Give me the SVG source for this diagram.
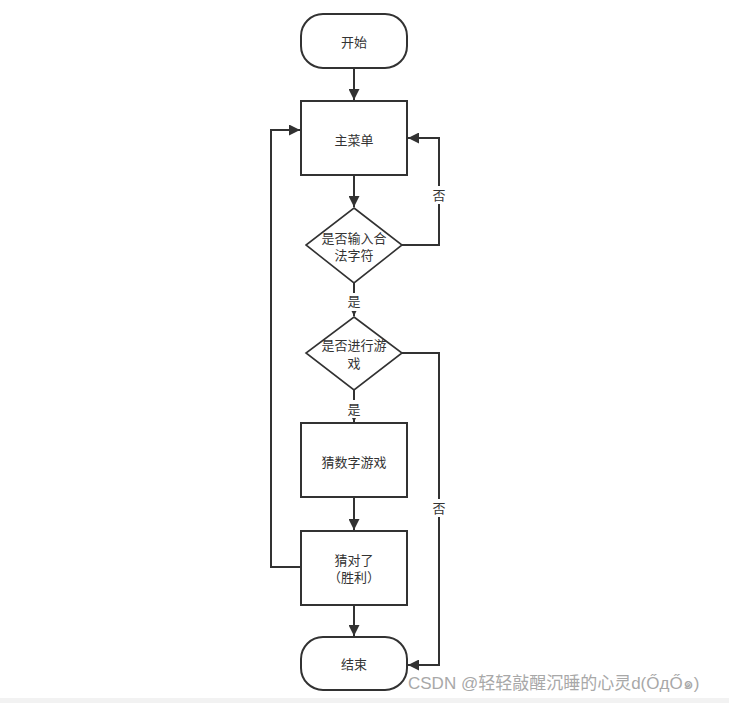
<svg xmlns="http://www.w3.org/2000/svg" width="729" height="703" viewBox="0 0 729 703">
<defs>
<marker id="arr" viewBox="0 0 10 10" refX="10" refY="5" markerWidth="5.5" markerHeight="5.5" orient="auto" markerUnits="strokeWidth">
<path d="M0,0 L10,5 L0,10 z" fill="#323232"/>
</marker>
<style>
.n{fill:#fff;stroke:#323232;stroke-width:2}
.d{fill:#fff;stroke:#323232;stroke-width:1.6}
.t{font-family:"Liberation Sans","Noto Sans CJK SC",sans-serif;font-size:13px;fill:#333;text-anchor:middle;dominant-baseline:central}
.c{fill:none;stroke:#323232;stroke-width:2}
.lb{fill:#fff}
</style>
</defs>
<rect width="729" height="703" fill="#fff"/>
<g id="connectors">
<path class="c" d="M354,68 V100" marker-end="url(#arr)"/>
<path class="c" d="M354,175 V207" marker-end="url(#arr)"/>
<path class="c" d="M402,245 H439 V138 H408" marker-end="url(#arr)"/>
<path class="c" d="M354,283 V316" marker-end="url(#arr)"/>
<path class="c" d="M402,353 H439 V665 H408" marker-end="url(#arr)"/>
<path class="c" d="M354,390 V422" marker-end="url(#arr)"/>
<path class="c" d="M354,497 V530" marker-end="url(#arr)"/>
<path class="c" d="M301,567 H271 V130 H300" marker-end="url(#arr)"/>
<path class="c" d="M354,605 V636" marker-end="url(#arr)"/>
<rect class="lb" x="431" y="186" width="16" height="18"/>
<text class="t" x="439" y="195">否</text>
<rect class="lb" x="346" y="293" width="16" height="18"/>
<text class="t" x="354" y="301">是</text>
<rect class="lb" x="346" y="400" width="16" height="18"/>
<text class="t" x="354" y="409">是</text>
<rect class="lb" x="431" y="499" width="16" height="18"/>
<text class="t" x="439" y="508">否</text>
</g>
<g id="start">
<rect class="n" x="301" y="14" width="106" height="54" rx="22" ry="22"/>
<text class="t" x="354" y="42">开始</text>
</g>
<g id="menu">
<rect class="n" x="301" y="101" width="106" height="74"/>
<text class="t" x="354" y="140">主菜单</text>
</g>
<g id="check-input">
<polygon class="d" points="354,208 402,245 354,283 306,245"/>
<text class="t" x="354" y="238">是否输入合</text>
<text class="t" x="354" y="255">法字符</text>
</g>
<g id="check-play">
<polygon class="d" points="354,317 402,353 354,390 306,353"/>
<text class="t" x="354" y="345">是否进行游</text>
<text class="t" x="354" y="363">戏</text>
</g>
<g id="guess">
<rect class="n" x="301" y="423" width="106" height="74"/>
<text class="t" x="354" y="462">猜数字游戏</text>
</g>
<g id="win">
<rect class="n" x="301" y="531" width="106" height="74"/>
<text class="t" x="354" y="560">猜对了</text>
<text class="t" x="354" y="577">（胜利）</text>
</g>
<g id="end">
<rect class="n" x="301" y="637" width="106" height="53" rx="22" ry="22"/>
<text class="t" x="354" y="664">结束</text>
</g>
<rect x="0" y="698" width="729" height="5" fill="#f2f2f2"/>
<text x="408" y="689" font-family="Liberation Sans,'Noto Sans CJK SC',sans-serif" font-size="17" fill="#a8a8a8">CSDN @轻轻敲醒沉睡的心灵d(ŐдŐ๑)</text>
</svg>
